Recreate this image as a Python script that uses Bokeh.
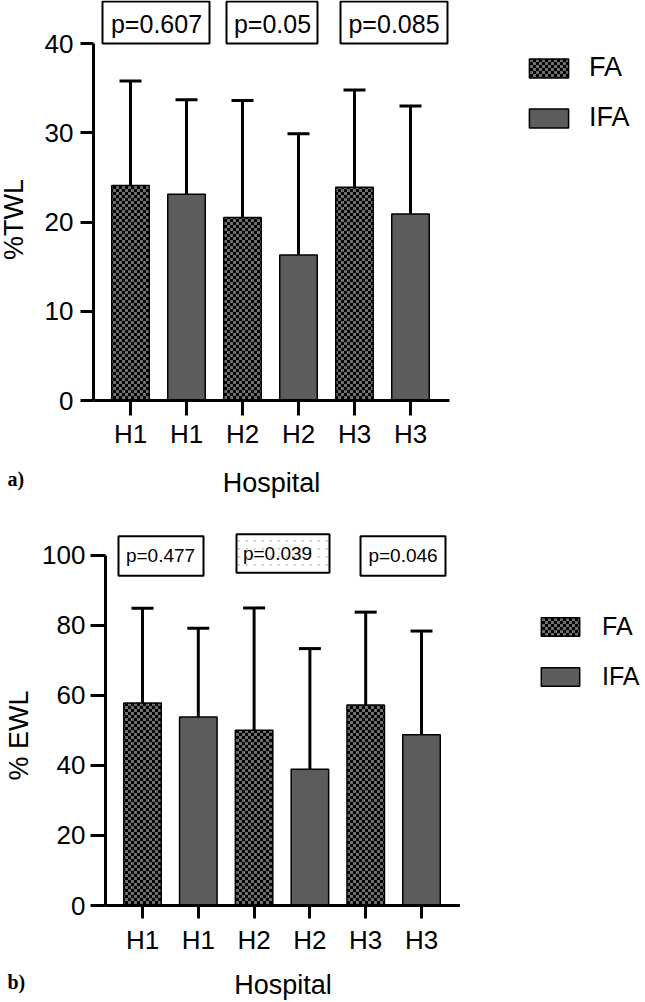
import math
from bokeh.plotting import figure
from bokeh.models import (ColumnDataSource, Whisker, TeeHead, FixedTicker, Label,
                          BoxAnnotation, Legend, LegendItem, CanvasTexture, Range1d)
from bokeh.layouts import column, row
from bokeh.embed import file_html
from bokeh.resources import INLINE

# ---------------- data ----------------
hospitals = ["H1", "H1", "H2", "H2", "H3", "H3"]
groups = ["FA", "IFA", "FA", "IFA", "FA", "IFA"]
twl_mean = [24.1, 23.1, 20.5, 16.3, 23.9, 20.9]
twl_upper = [35.8, 33.7, 33.6, 29.9, 34.8, 33.0]
ewl_mean = [57.8, 53.8, 50.0, 38.9, 57.2, 48.7]
ewl_upper = [84.8, 79.1, 84.9, 73.3, 83.7, 78.3]
twl_pvalues = ["p=0.607", "p=0.05", "p=0.085"]
ewl_pvalues = ["p=0.477", "p=0.039", "p=0.046"]
twl_ticks = [0, 10, 20, 30, 40]
ewl_ticks = [0, 20, 40, 60, 80, 100]
legend_labels = ["FA", "IFA"]

FONT = "Liberation Sans"
FA_FILL = "#6e6e6e"
IFA_FILL = "#5c5c5c"
LEFT_W, MID_W, RIGHT_W = 35, 425, 185

# checkerboard texture (3px cells), drawn on its own 6x6 tile
checker = CanvasTexture(code="""
const c = ctx.canvas;
c.width = 6; c.height = 6;
ctx.fillStyle = "#000000";
ctx.fillRect(0, 0, 3, 3);
ctx.fillRect(3, 3, 3, 3);
""")
# sparse light dots, 8x8 tile
dots = CanvasTexture(code="""
const c = ctx.canvas;
c.width = 8; c.height = 8;
ctx.fillStyle = "#b0b0b0";
ctx.fillRect(3, 3, 1.5, 1.5);
""")
FA_STYLE = dict(fill_color=FA_FILL, line_color="black", line_width=1.5, hatch_pattern="*",
                hatch_extra={"*": checker}, hatch_color="black", hatch_scale=6)
IFA_STYLE = dict(fill_color=IFA_FILL, line_color="black", line_width=1.5)


def no_align(p):
    try:
        p.frame_align = False
    except Exception:
        pass


def split_sources(means):
    xs = list(range(1, len(means) + 1))
    fa = ColumnDataSource(dict(x=[x for x, gg in zip(xs, groups) if gg == "FA"],
                               top=[m for m, gg in zip(means, groups) if gg == "FA"]))
    ifa = ColumnDataSource(dict(x=[x for x, gg in zip(xs, groups) if gg == "IFA"],
                                top=[m for m, gg in zip(means, groups) if gg == "IFA"]))
    return xs, fa, ifa


def panel(means, uppers, ticks, pvals, g):
    page_top = g["page_top"]
    H = g["height"]
    fl = g["frame_left"] - LEFT_W
    fr = g["frame_right"] - LEFT_W
    fb = g["frame_bottom"] - page_top
    ux, uy, cx0 = g["unit_x"], g["unit_y"], g["first_x"]

    def dx(px):  # page px -> data x
        return 1 + (px - cx0) / ux

    def dy(py):  # page px -> data y
        return (g["frame_bottom"] - py) / uy

    p = figure(width=MID_W, height=H,
               x_range=Range1d(dx(g["frame_left"]), dx(g["frame_right"])),
               y_range=Range1d(0, dy(page_top)),
               output_backend="svg", toolbar_location=None, title=None,
               min_border_left=fl, min_border_right=MID_W - fr, min_border_top=0,
               min_border_bottom=H - fb)
    no_align(p)
    p.outline_line_color = None
    p.grid.visible = False

    xs, fa, ifa = split_sources(means)
    src = ColumnDataSource(dict(x=xs, top=means, upper=uppers))
    bw = g["bar_w"] / ux
    p.vbar(x="x", top="top", width=bw, source=fa, **FA_STYLE)
    p.vbar(x="x", top="top", width=bw, source=ifa, **IFA_STYLE)

    p.add_layout(Whisker(source=src, base="x", upper="upper", lower="top", dimension="height",
                         line_color="black", line_width=3, lower_head=None,
                         upper_head=TeeHead(size=22, line_color="black", line_width=3)))

    p.xaxis.ticker = FixedTicker(ticks=xs)
    p.xaxis.major_label_overrides = {x: h for x, h in zip(xs, hospitals)}
    p.yaxis.ticker = FixedTicker(ticks=ticks)
    p.yaxis.bounds = (ticks[0], ticks[-1])
    for ax in (p.xaxis[0], p.yaxis[0]):
        ax.axis_line_width = 3
        ax.axis_line_color = "black"
        ax.major_tick_line_width = 3
        ax.major_tick_line_color = "black"
        ax.major_tick_in = 0
        ax.minor_tick_line_color = None
        ax.major_label_text_font = FONT
        ax.major_label_text_font_size = "26px"
        ax.major_label_text_color = "black"
    p.xaxis.major_tick_out = g["xtick_out"]
    p.yaxis.major_tick_out = g["ytick_out"]
    p.xaxis.major_label_standoff = g["xlab_standoff"]
    p.yaxis.major_label_standoff = g["ylab_standoff"]
    p.xaxis.axis_label = "Hospital"
    p.xaxis.axis_label_text_font = FONT
    p.xaxis.axis_label_text_font_size = "27px"
    p.xaxis.axis_label_text_font_style = "normal"
    p.xaxis.axis_label_text_color = "black"
    p.xaxis.axis_label_standoff = g["xaxis_label_standoff"]

    for i, txt in enumerate(pvals):
        l, r, t, b = g["boxes"][i]
        hatched = g.get("hatched") == i
        p.add_layout(BoxAnnotation(left=dx(l), right=dx(r), top=dy(t), bottom=dy(b),
                                   fill_color="white", fill_alpha=1, line_color="black",
                                   line_width=2, line_alpha=1,
                                   hatch_pattern="." if hatched else None,
                                   hatch_extra={".": dots}, hatch_color="#b0b0b0",
                                   hatch_scale=8))
        tx, ty = g["ptext"][i]
        p.add_layout(Label(x=dx(tx), y=dy(ty), text=txt, text_align="center",
                           text_baseline="middle", text_font=FONT,
                           text_font_size=g["pfont"], text_color="black"))
    return p


top_geom = dict(page_top=0, height=505, frame_left=93, frame_right=449, frame_bottom=400,
                unit_x=56.0, unit_y=8.925, first_x=130, bar_w=37.5,
                xtick_out=15, ytick_out=13, xlab_standoff=3, ylab_standoff=7,
                xaxis_label_standoff=16,
                boxes=[(102, 209, 1, 43), (226, 317, 1, 43), (340, 447, 1, 43)],
                ptext=[(156, 23), (272, 23), (393.5, 23)], pfont="25px")

bot_geom = dict(page_top=505, height=497, frame_left=105, frame_right=460, frame_bottom=909,
                unit_x=55.8, unit_y=3.54, first_x=142, bar_w=37.5,
                xtick_out=13, ytick_out=15, xlab_standoff=6, ylab_standoff=5,
                xaxis_label_standoff=12,
                boxes=[(118, 203, 536, 576), (236, 329, 534, 573), (360, 445, 536, 576)],
                ptext=[(160, 556), (277, 553), (402.5, 556)], pfont="19px", hatched=1)

p1 = panel(twl_mean, twl_upper, twl_ticks, twl_pvalues, top_geom)
p2 = panel(ewl_mean, ewl_upper, ewl_ticks, ewl_pvalues, bot_geom)


def strip(width, x0, y0):
    s = figure(width=width, height=1002, x_range=Range1d(x0, x0 + width),
               y_range=Range1d(y0 + 1002, y0), output_backend="svg", toolbar_location=None,
               title=None, min_border_left=0, min_border_right=0, min_border_top=0,
               min_border_bottom=0, x_axis_location=None, y_axis_location=None)
    no_align(s)
    s.outline_line_color = None
    s.grid.visible = False
    return s


# left strip: y-axis titles and panel tags (page pixel coordinates)
left = strip(LEFT_W, 0, 0)
for txt, x, y in [("%TWL", 13, 219), ("% EWL", 18, 735)]:
    left.add_layout(Label(x=x, y=y, text=txt, angle=math.pi / 2, text_align="center",
                          text_baseline="middle", text_font=FONT, text_font_size="27px",
                          text_color="black"))
for txt, y in [("a)", 478), ("b)", 981)]:
    left.add_layout(Label(x=7, y=y, text=txt, text_align="left", text_baseline="middle",
                          text_font="Liberation Serif", text_font_style="bold",
                          text_font_size="20px", text_color="black"))

# right strip: legends. Its ranges are placed far from the data so the proxy series
# (the real FA / IFA values) fall outside its view, beyond the bottom-right corner.
right = strip(RIGHT_W, -5000, -5000)
for means, loc, gw, gh, so, sp, fs in [(twl_mean, (64, 869), 49, 24, 16, 19, "27px"),
                                       (ewl_mean, (76, 311), 48, 23, 18, 21, "25px")]:
    _, fa, ifa = split_sources(means)
    rf = right.vbar(x="x", top="top", width=0.5, source=fa, **FA_STYLE)
    ri = right.vbar(x="x", top="top", width=0.5, source=ifa, **IFA_STYLE)
    right.add_layout(Legend(items=[LegendItem(label=legend_labels[0], renderers=[rf]),
                                   LegendItem(label=legend_labels[1], renderers=[ri])],
                            location=loc, orientation="vertical", glyph_width=gw,
                            glyph_height=gh, label_standoff=so, spacing=sp, padding=0,
                            margin=0, border_line_color=None, background_fill_alpha=0,
                            label_text_font=FONT, label_text_font_size=fs,
                            label_text_color="black"))

layout = row(left, column(p1, p2, spacing=0), right, spacing=0)
open("out.html", "w").write(file_html(layout, INLINE))
